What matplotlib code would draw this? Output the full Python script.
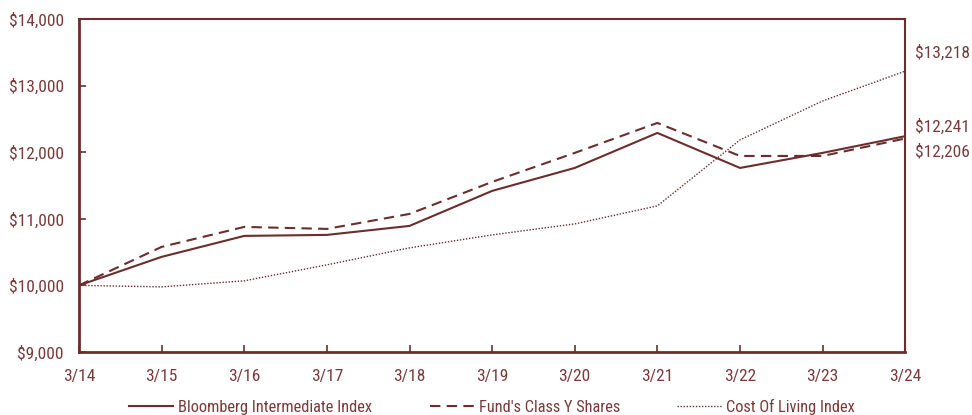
import matplotlib.pyplot as plt
from matplotlib import font_manager

# pick a condensed sans that is installed
names = {f.name for f in font_manager.fontManager.ttflist}
family = 'Liberation Sans'
for cand in ['Roboto Condensed', 'Archivo Narrow', 'PT Sans Narrow', 'Liberation Sans Narrow',
             'Fira Sans Condensed', 'IBM Plex Sans Condensed', 'Barlow Semi Condensed']:
    if cand in names:
        family = cand
        break
plt.rcParams['font.family'] = [family, 'DejaVu Sans']

line_color = '#6b2d2d'
text_color = '#7a3a3a'

years = ['3/14', '3/15', '3/16', '3/17', '3/18', '3/19', '3/20', '3/21', '3/22', '3/23', '3/24']
bloomberg = [10000, 10428, 10743, 10758, 10893, 11419, 11764, 12290, 11764, 11990, 12241]
fund_y = [10000, 10578, 10878, 10848, 11073, 11554, 11990, 12440, 11944, 11944, 12206]
cost_living = [10000, 9977, 10068, 10308, 10563, 10758, 10923, 11194, 12185, 12770, 13218]
y_ticks = [9000, 10000, 11000, 12000, 13000, 14000]

fig = plt.figure(figsize=(9.72, 4.15), dpi=100)
ax = fig.add_axes([0.0813, 0.152, 0.8500, 0.802])

x = list(range(len(years)))
ax.plot(x, bloomberg, color=line_color, lw=1.5, ls='-', label='Bloomberg Intermediate Index')
ax.plot(x, fund_y, color=line_color, lw=1.5, ls=(0, (5, 3)), label="Fund's Class Y Shares")
ax.plot(x, cost_living, color=line_color, lw=1.0, ls=(0, (1, 1.2)), label='Cost Of Living Index')

ax.set_xlim(0, len(years) - 1)
ax.set_ylim(9000, 14000)
ax.set_xticks(x)
ax.set_xticklabels(years)
ax.set_yticks(y_ticks)
ax.set_yticklabels(['${:,}'.format(v) for v in y_ticks])

for side in ['left', 'bottom', 'top', 'right']:
    ax.spines[side].set_color(line_color)
ax.spines['left'].set_linewidth(2)
ax.spines['bottom'].set_linewidth(2)
ax.spines['top'].set_linewidth(1.5)
ax.spines['right'].set_linewidth(1.5)
ax.tick_params(axis='both', direction='in', length=5, width=1.2, color=line_color,
               labelcolor=text_color, labelsize=12.5)
ax.tick_params(axis='y', pad=11)
ax.tick_params(axis='x', pad=12)

# end-value labels, nudged apart so they do not overlap
label_pos = [13490, 12380, 12000]
for v, yp in zip([cost_living[-1], bloomberg[-1], fund_y[-1]], label_pos):
    ax.annotate('${:,}'.format(v), xy=(len(years) - 1, yp), xytext=(7, 0),
                textcoords='offset points', va='center', ha='left',
                color=text_color, fontsize=12.5, annotation_clip=False)

leg = ax.legend(loc='center', bbox_to_anchor=(0.5, -0.165), ncol=3, frameon=False,
                fontsize=11.8, handlelength=2.7, columnspacing=3.5, handletextpad=0.3)
for t in leg.get_texts():
    t.set_color(text_color)

fig.savefig('out.png', dpi=100)
